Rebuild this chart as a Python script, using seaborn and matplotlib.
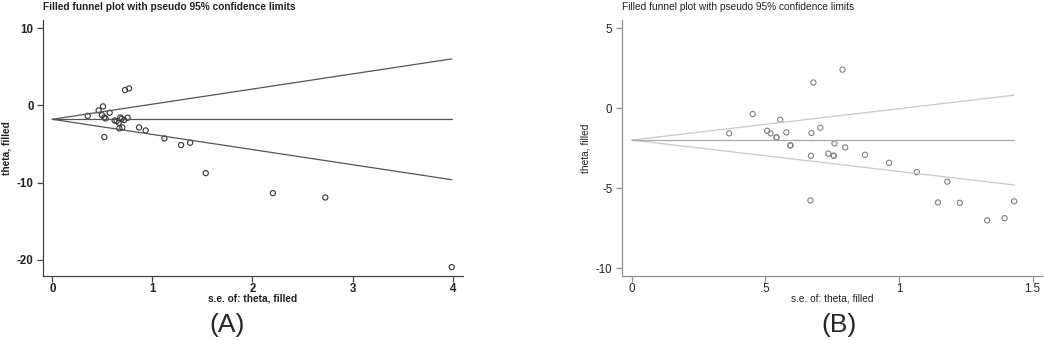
import numpy as np
import pandas as pd
import seaborn as sns
import matplotlib.pyplot as plt

# panel A: standard errors and effect estimates (filled)
se_a = [0.354, 0.463, 0.507, 0.497, 0.52, 0.533, 0.573, 0.52, 0.623, 0.643,
        0.663, 0.68, 0.693, 0.717, 0.67, 0.70, 0.753, 0.727, 0.767, 0.867,
        0.933, 1.12, 1.287, 1.377, 1.533, 2.204, 2.727, 3.99]
theta_a = [-1.35, -0.65, -0.13, -1.26, -1.56, -1.69, -0.95, -4.1, -1.95, -2.03,
           -2.25, -1.56, -1.73, -1.9, -2.98, -2.85, -1.6, 1.98, 2.2, -2.85,
           -3.24, -4.28, -5.14, -4.84, -8.77, -11.36, -11.92, -20.94]
pooled_a = -1.8

# panel B
se_b = [0.365, 0.453, 0.507, 0.52, 0.542, 0.542, 0.556, 0.579, 0.594, 0.594,
        0.68, 0.671, 0.673, 0.669, 0.706, 0.736, 0.756, 0.756, 0.759, 0.789,
        0.799, 0.873, 0.963, 1.067, 1.181, 1.146, 1.228, 1.33, 1.395, 1.431]
theta_b = [-1.58, -0.375, -1.42, -1.58, -1.83, -1.83, -0.73, -1.52, -2.33, -2.33,
           1.60, -2.98, -1.56, -5.77, -1.23, -2.85, -2.98, -2.98, -2.21, 2.40,
           -2.46, -2.92, -3.42, -4.0, -4.6, -5.9, -5.92, -7.02, -6.88, -5.83]
pooled_b = -2.0

sns.set_style("ticks")
plt.rcParams['font.family'] = ['Liberation Sans', 'DejaVu Sans']

fig = plt.figure(figsize=(10.45, 3.4), dpi=100)
ax_a = fig.add_axes([0.0414, 0.188, 0.4014, 0.753])
ax_b = fig.add_axes([0.5952, 0.188, 0.4016, 0.753])


def funnel(ax, se, theta, pooled, line_col, mid_col, pt_col, spine_col, weight,
           xlim, ylim, xticks, xlabels, yticks):
    df = pd.DataFrame({"se": se, "theta": theta})
    grid = np.array([0, max(se)])
    ax.plot(grid, pooled + 1.96 * grid, color=line_col, lw=0.9)
    ax.plot(grid, pooled - 1.96 * grid, color=line_col, lw=0.9)
    ax.plot(grid, [pooled, pooled], color=mid_col, lw=0.9)
    sns.scatterplot(data=df, x="se", y="theta", ax=ax, marker="o", s=14,
                    facecolor="none", edgecolor=pt_col, linewidth=0.8)
    ax.set_xlim(*xlim)
    ax.set_ylim(*ylim)
    ax.set_xticks(xticks)
    ax.set_xticklabels(xlabels)
    ax.set_yticks(yticks)
    ax.set_yticklabels([str(t) for t in yticks])
    for s in ("top", "right"):
        ax.spines[s].set_visible(False)
    for s in ("left", "bottom"):
        ax.spines[s].set_color(spine_col)
        ax.spines[s].set_linewidth(0.9)
    ax.tick_params(length=4, width=0.9, color=spine_col, labelsize=8.3,
                   labelcolor="#222222")
    ax.tick_params(axis="x", pad=1)
    ax.tick_params(axis="y", pad=3)
    for lab in ax.get_xticklabels() + ax.get_yticklabels():
        lab.set_fontweight(weight)
    ax.set_xlabel("s.e. of: theta, filled", fontsize=7.3, color="#222222",
                  fontweight=weight)
    ax.set_ylabel("theta, filled", fontsize=7.3, color="#222222",
                  fontweight=weight)
    ax.xaxis.set_label_coords(0.5, -0.086)
    ax.xaxis.label.set_va("center")
    ax.yaxis.set_label_coords(-0.087, 0.5)
    ax.yaxis.label.set_va("center")
    ax.set_title("Filled funnel plot with pseudo 95% confidence limits",
                 loc="left", fontsize=7.3, color="#222222", fontweight=weight,
                 pad=7, x=0.0)


funnel(ax_a, se_a, theta_a, pooled_a, "#555555", "#555555", "#333333", "#444444",
       "bold", (-0.09, 4.10), (-22.1, 11.05), [0, 1, 2, 3, 4],
       ["0", "1", "2", "3", "4"], [10, 0, -10, -20])
funnel(ax_b, se_b, theta_b, pooled_b, "#c8c8c8", "#a8a8a8", "#808080", "#909090",
       "normal", (-0.036, 1.534), (-10.5, 5.5), [0, 0.5, 1, 1.5],
       ["0", ".5", "1", "1.5"], [5, 0, -5, -10])

fig.text(227 / 1045, 1 - 325 / 340, "(A)", fontsize=19, ha="center", va="center")
fig.text(839 / 1045, 1 - 325 / 340, "(B)", fontsize=19, ha="center", va="center")

plt.savefig("out.png", dpi=100)
plt.close()
